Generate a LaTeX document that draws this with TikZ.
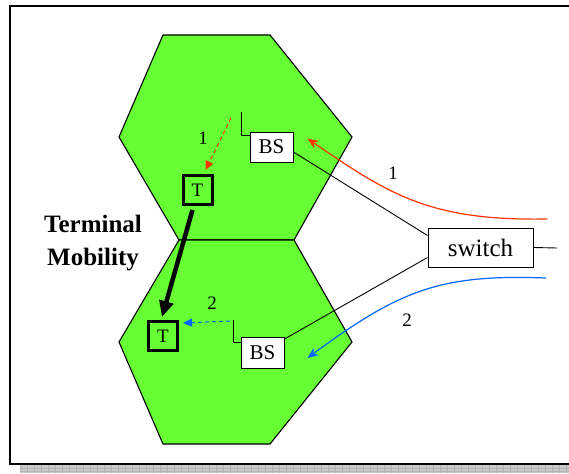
\documentclass[tikz,border=0pt]{standalone}
\usepackage{fontspec}
\setmainfont{Liberation Serif}
\newfontfamily\timesf{Liberation Serif}
\usetikzlibrary{arrows.meta,calc}
\definecolor{hexgreen}{HTML}{66FF33}
\definecolor{sigred}{HTML}{FF3300}
\definecolor{sigblue}{HTML}{0066FF}
\definecolor{shadowgray}{HTML}{CACACA}
\begin{document}
\begin{tikzpicture}[x=1pt,y=-1pt,
  hex/.style={fill=hexgreen,draw=black,line width=1.1pt,line join=miter},
  bsbox/.style={draw=black,fill=white,line width=0.9pt,minimum width=43pt,minimum height=30pt,inner sep=0pt,font=\timesf\fontsize{21}{24}\selectfont},
  tbox/.style={draw=black,line width=3pt,minimum width=29pt,minimum height=29pt,inner sep=0pt,font=\timesf\fontsize{19}{22}\selectfont},
  swbox/.style={draw=black,fill=white,line width=1pt,minimum width=105pt,minimum height=39pt,inner sep=0pt,font=\timesf\fontsize{25}{28}\selectfont},
  wire/.style={draw=black,line width=0.9pt},
  lbl/.style={font=\timesf\fontsize{19}{22}\selectfont,inner sep=0pt},
  redsig/.style={draw=sigred,line width=1.2pt,-{Stealth[length=11pt,width=9pt]}},
  bluesig/.style={draw=sigblue,line width=1.2pt,-{Stealth[length=11pt,width=9pt]}},
  reddash/.style={draw=sigred,line width=1pt,dashed,dash pattern=on 4pt off 3pt,-{Triangle[length=9pt,width=8pt]}},
  bluedash/.style={draw=sigblue,line width=1pt,dashed,dash pattern=on 4pt off 3pt,-{Triangle[length=9pt,width=8pt]}},
  move/.style={draw=black,line width=4.5pt,-{Triangle[length=16pt,width=14pt]}}
]
\clip (0,0) rectangle (569,473);
\fill[white] (0,0) rectangle (569,473);
% shadow
\fill[shadowgray] (20,465) rectangle (569,473);
\foreach \x in {20,27,...,569} \draw[gray!60,line width=0.4pt] (\x,465) -- (\x,473);
\foreach \y in {468,471} \draw[gray!60,line width=0.4pt] (20,\y) -- (569,\y);
% frame
\draw[line width=1.5pt] (10,6) rectangle (585,464);
% hexagons
\draw[hex] (163,35) -- (270,35) -- (352,137) -- (294,240) -- (179,240) -- (119,137) -- cycle;
\draw[hex] (179,240) -- (294,240) -- (352,342) -- (270,444) -- (163,444) -- (119,342) -- cycle;
% nodes
\node[bsbox] (bs1) at (271.5,147) {BS};
\node[bsbox,minimum height=31pt] (bs2) at (262.5,353) {BS};
\node[tbox] (t1) at (197.5,190) {T};
\node[tbox] (t2) at (163,336) {T};
\node[swbox] (sw) at (480.5,247.5) {switch};
\node[font=\timesf\bfseries\fontsize{25}{33}\selectfont,align=center] (tm) at (93,243) {Terminal\\Mobility};
% coordinates
\coordinate (ant1) at (241,112);
\coordinate (ant2) at (233,320);
\coordinate (swr) at (557,248);
\coordinate (rsrc) at (547,219);
\coordinate (bsrc) at (546,278);
\coordinate (rd1) at (231,118);
\coordinate (bd1) at (230,321);
% antennas
\draw[wire] (ant1) -- (241,135) -- (bs1.west |- 0,135);
\draw[wire] (ant2) -- (233,342) -- (bs2.west |- 0,342);
% links
\draw[wire] ($(bs1.east)+(0,5)$) -- ($(sw.north west)+(0,8)$);
\draw[wire] ($(bs2.north east)+(0,2)$) -- ($(sw.south west)+(0,-10)$);
\draw[wire] (sw.east) -- (swr);
% signals
\draw[redsig] (rsrc) .. controls (430,221) and (390,195) .. ($(bs1.north east)+(14,7)$);
\draw[bluesig] (bsrc) .. controls (440,274) and (400,290) .. ($(bs2.east)+(23,5)$);
\draw[reddash] (rd1) -- ($(t1.north)+(8,-4)$);
\draw[bluedash] (bd1) -- ($(t2.north east)+(4,3)$);
\draw[move] ($(t1.south)+(-5,4)$) -- ($(t2.north)+(-1,-3)$);
% labels
\node[lbl] (l1a) at (203,138) {1};
\node[lbl] (l1b) at (393,173) {1};
\node[lbl] (l2a) at (212,303) {2};
\node[lbl] (l2b) at (407,320) {2};
\end{tikzpicture}
\end{document}
